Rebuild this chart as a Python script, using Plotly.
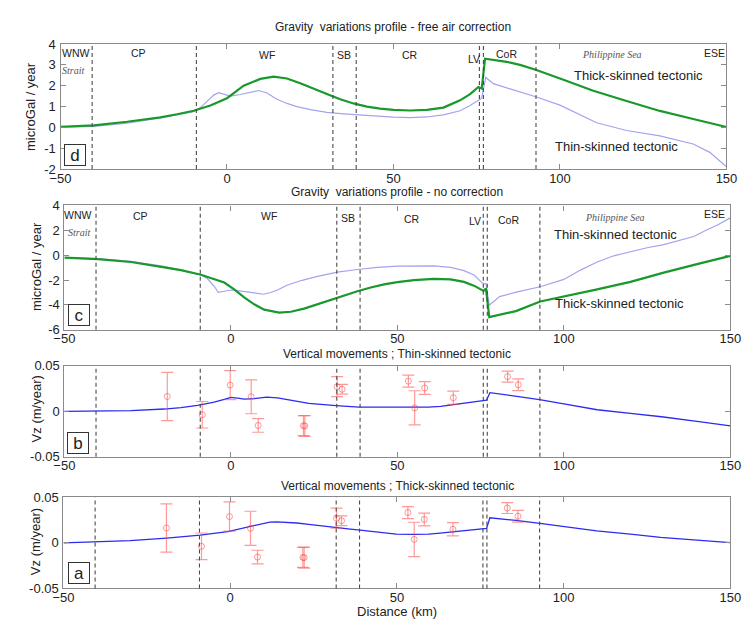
import plotly.graph_objects as go

W, H = 753, 627

# ---------------- data ----------------
# Panel d : gravity, free air correction
d_thick_x = [-50, -40, -30, -20, -15, -10, -5, 0, 5, 10, 14, 18, 22, 26, 30, 34, 38, 42, 46, 50, 55, 60, 65, 70, 73, 75.5, 76.5, 77.5, 80, 84, 88, 92.7, 100, 110, 120, 130, 140, 150]
d_thick_y = [0.03, 0.1, 0.27, 0.48, 0.63, 0.8, 1.05, 1.4, 2.0, 2.33, 2.44, 2.35, 2.12, 1.85, 1.6, 1.35, 1.15, 1.0, 0.9, 0.84, 0.81, 0.84, 0.95, 1.3, 1.6, 1.94, 1.86, 3.3, 3.25, 3.15, 3.0, 2.77, 2.35, 1.76, 1.27, 0.79, 0.4, 0.02]
d_thin_x = [-50, -40, -30, -20, -10, -8, -6, -4, -2.5, -1, 1, 4, 7, 9.5, 12, 15, 18, 21, 25, 30, 35, 40, 45, 50, 55, 60, 65, 70, 73, 75.5, 76.5, 77.7, 80, 85, 92.7, 100, 105, 111, 120, 130, 140, 145, 150]
d_thin_y = [0.0, 0.05, 0.2, 0.45, 0.75, 0.95, 1.25, 1.55, 1.67, 1.6, 1.5, 1.58, 1.7, 1.77, 1.65, 1.35, 1.15, 1.0, 0.85, 0.72, 0.65, 0.6, 0.53, 0.49, 0.47, 0.5, 0.6, 0.8, 1.05, 1.31, 1.4, 2.4, 2.1, 1.85, 1.47, 1.07, 0.7, 0.22, -0.15, -0.41, -0.8, -1.2, -1.89]

# Panel c : gravity, no correction
c_thick_x = [-50, -40, -30, -20, -15, -9, -5, -2, 1, 4, 7, 10, 14.5, 18, 22, 26, 30, 34, 38, 42, 46, 50, 55, 61, 66, 70, 73, 75.9, 76.6, 77.6, 80, 85.6, 92.9, 100, 105, 110, 120, 130, 140, 150]
c_thick_y = [-0.2, -0.32, -0.55, -0.95, -1.2, -1.57, -1.9, -2.2, -2.75, -3.4, -3.95, -4.38, -4.62, -4.55, -4.3, -3.95, -3.55, -3.2, -2.9, -2.6, -2.35, -2.17, -2.0, -1.9, -1.95, -2.15, -2.45, -2.88, -2.67, -4.98, -4.85, -4.5, -3.72, -3.33, -3.06, -2.75, -2.15, -1.4, -0.72, -0.06]
c_thin_x = [-50, -40, -30, -20, -9, -7, -5, -3.8, -2, 0, 2, 4, 7, 9.8, 12, 14, 17, 21.4, 26, 32, 38, 44, 50, 55, 61, 66, 70, 73, 75.9, 76.6, 77.6, 80.7, 86, 92.9, 100, 105, 110, 115, 120, 125, 130, 135, 139, 143, 146, 150]
c_thin_y = [-0.2, -0.28, -0.5, -0.9, -1.57, -1.9, -2.5, -2.99, -2.9, -2.8, -2.85, -2.93, -3.08, -3.14, -3.0, -2.8, -2.4, -2.02, -1.7, -1.37, -1.15, -0.98, -0.88, -0.85, -0.86, -0.98, -1.24, -1.6, -2.33, -2.28, -4.03, -3.33, -2.95, -2.54, -1.95, -1.2, -0.55, -0.05, 0.3, 0.6, 0.85, 1.2, 1.5, 2.05, 2.4, 3.0]

# Panel b : vertical movements, thin-skinned
b_x = [-50, -40, -30, -20, -15, -10, -5, -2, 0, 2, 4, 7, 10.7, 14, 17, 20, 23.4, 27, 31.6, 35, 38.6, 46, 51.5, 59.3, 63, 66, 70, 73, 75.9, 76.8, 77.8, 81, 85.6, 92.7, 100, 110, 120, 129.3, 140, 150]
b_y = [0, 0, 0.0007, 0.0025, 0.004, 0.0065, 0.01, 0.013, 0.0153, 0.0145, 0.0135, 0.014, 0.0155, 0.0148, 0.0132, 0.011, 0.0088, 0.0075, 0.0063, 0.0055, 0.0045, 0.0045, 0.0045, 0.0045, 0.0055, 0.007, 0.0088, 0.0105, 0.0124, 0.0124, 0.0206, 0.019, 0.017, 0.0128, 0.0081, 0.0017, -0.0023, -0.006, -0.0111, -0.016]

# Panel a : vertical movements, thick-skinned
a_x = [-50, -40, -30, -19, -9, -0.7, 3, 6.1, 9, 11.9, 14, 16.8, 20, 23.6, 28, 32.1, 36, 39, 42, 45, 49.8, 55, 59.5, 63, 67.2, 70, 73, 76, 76.9, 77.9, 81, 85.7, 92.9, 100, 109.9, 120, 129.1, 140, 150]
a_y = [0, 0.0014, 0.0025, 0.0053, 0.0085, 0.0124, 0.0155, 0.0185, 0.021, 0.0228, 0.023, 0.0228, 0.0218, 0.0203, 0.0182, 0.0164, 0.015, 0.0139, 0.0125, 0.0112, 0.0096, 0.0094, 0.0096, 0.0108, 0.0125, 0.0137, 0.015, 0.0157, 0.016, 0.0275, 0.0265, 0.0246, 0.0214, 0.0181, 0.0132, 0.0095, 0.006, 0.003, 0.0003]

# Observed vertical velocities with error bars
obs_x = [-19.1, -8.6, -0.2, 6.1, 8.2, 21.8, 22.2, 31.9, 33.4, 53.3, 55.2, 58.2, 66.8, 83.1, 86.3]
obs_y = [0.0163, -0.0038, 0.0289, 0.016, -0.0156, -0.0159, -0.0162, 0.0271, 0.0242, 0.0332, 0.0038, 0.0257, 0.0149, 0.0382, 0.0292]
obs_err = [0.0265, 0.0146, 0.016, 0.0187, 0.0075, 0.011, 0.0115, 0.011, 0.0054, 0.0066, 0.0188, 0.007, 0.0073, 0.006, 0.0065]

# Structural boundaries (km)
boundaries = [-40.5, -9.2, 31.8, 38.8, 75.8, 77.0, 92.8]

x_ticks = [-50, 0, 50, 100, 150]
d_yticks = [4, 3, 2, 1, 0, -1, -2]
c_yticks = [4, 2, 0, -2, -4, -6]
v_yticks = [0.05, 0, -0.05]
v_yticklabels = ["0.05", "0", "-0.05"]

titles = ["Gravity  variations profile - free air correction",
          "Gravity  variations profile - no correction",
          "Vertical movements ; Thin-skinned tectonic",
          "Vertical movements ; Thick-skinned tectonic"]
region_labels = ["WNW", "CP", "WF", "SB", "CR", "LV", "CoR", "ESE"]
panel_letters = ["d", "c", "b", "a"]

# ---------------- styling ----------------
GREEN = "#19982c"
LBLUE = "#a3a3ee"
BLUE = "#2b2bf2"
RED = "rgba(255,70,70,0.55)"
FRAME = "#8a8a8a"
TXT = "#222222"
SANS = "Liberation Sans, Arial, sans-serif"
SERIF = "Liberation Serif, Times New Roman, serif"


def fx(p):
    return p / W


def fy(p):
    return 1 - p / H


# panel pixel boxes: (left, right, top, bottom)
boxes = [(51, 737, 38, 166), (55, 741, 203.3, 330.7), (55, 741, 367.7, 460.7), (54, 741, 502.3, 595.7)]
yranges = [[-2, 4], [-6, 4], [-0.05, 0.05], [-0.05, 0.05]]
yticks = [(d_yticks, [str(v) for v in d_yticks]), (c_yticks, [str(v) for v in c_yticks]),
          (v_yticks, v_yticklabels), (v_yticks, v_yticklabels)]

fig = go.Figure()

layout = dict(width=W, height=H, margin=dict(l=0, r=0, t=0, b=0),
              paper_bgcolor="white", plot_bgcolor="white", showlegend=False,
              font=dict(family=SANS, size=12, color=TXT))

for i, (l, r, t, b) in enumerate(boxes):
    n = "" if i == 0 else str(i + 1)
    layout["xaxis" + n] = dict(domain=[fx(l), fx(r)], range=[-50, 150], anchor="y" + n,
                               tickvals=x_ticks, ticks="inside", ticklen=5, tickcolor=FRAME,
                               showline=True, linecolor=FRAME, linewidth=1.2, mirror="ticks",
                               showgrid=False, zeroline=False, ticklabelstandoff=-3,
                               tickfont=dict(size=13, color=TXT))
    layout["yaxis" + n] = dict(domain=[fy(b), fy(t)], range=yranges[i], anchor="x" + n,
                               tickvals=yticks[i][0], ticktext=yticks[i][1], ticks="inside",
                               ticklen=5, tickcolor=FRAME, showline=True, linecolor=FRAME,
                               linewidth=1.2, mirror="ticks", showgrid=False, zeroline=False,
                               ticklabelstandoff=1, tickfont=dict(size=13, color=TXT))

# traces
fig.add_trace(go.Scatter(x=d_thin_x, y=d_thin_y, mode="lines", line=dict(color=LBLUE, width=1.2), xaxis="x", yaxis="y"))
fig.add_trace(go.Scatter(x=d_thick_x, y=d_thick_y, mode="lines", line=dict(color=GREEN, width=2.2), xaxis="x", yaxis="y"))
fig.add_trace(go.Scatter(x=c_thin_x, y=c_thin_y, mode="lines", line=dict(color=LBLUE, width=1.2), xaxis="x2", yaxis="y2"))
fig.add_trace(go.Scatter(x=c_thick_x, y=c_thick_y, mode="lines", line=dict(color=GREEN, width=2.2), xaxis="x2", yaxis="y2"))
for xa, ya, xs, ys in [("x3", "y3", b_x, b_y), ("x4", "y4", a_x, a_y)]:
    fig.add_trace(go.Scatter(x=xs, y=ys, mode="lines", line=dict(color=BLUE, width=1.3), xaxis=xa, yaxis=ya))
    fig.add_trace(go.Scatter(x=obs_x, y=obs_y, mode="markers",
                             marker=dict(symbol="circle-open", size=6, color=RED, line=dict(width=1)),
                             error_y=dict(type="data", array=obs_err, visible=True, color=RED, thickness=1.2, width=6),
                             xaxis=xa, yaxis=ya))

# dashed boundaries
shapes = []
for i in range(4):
    n = "" if i == 0 else str(i + 1)
    for bx in boundaries:
        shapes.append(dict(type="line", xref="x" + n, yref="y" + n + " domain" if n else "y domain",
                           x0=bx, x1=bx, y0=0, y1=1, line=dict(color="#4a4a4a", width=1.1, dash="4px,3px")))
layout["shapes"] = shapes

ann = []
title_pos = [(394, 20), (398, 190), (398, 356), (398, 491)]
for (x, y), t in zip(title_pos, titles):
    ann.append(dict(text=t, x=fx(x), y=fy(y), xref="paper", yref="paper", showarrow=False,
                    xanchor="center", yanchor="middle", font=dict(size=12, color=TXT)))
ann.append(dict(text="Distance (km)", x=fx(398), y=fy(619), xref="paper", yref="paper", showarrow=False,
                xanchor="center", yanchor="middle", font=dict(size=13, color=TXT)))
for (x, y, t) in [(20, 102, "microGal / year"), (26, 266, "microGal / year"), (26, 412, "Vz (m/year)"), (26, 548, "Vz (m/year)")]:
    ann.append(dict(text=t, x=fx(x), y=fy(y), xref="paper", yref="paper", showarrow=False, textangle=-90,
                    xanchor="center", yanchor="middle", font=dict(size=13, color=TXT)))

# region labels (panels d and c)
d_lab_pos = [(66.7, 47), (131, 47), (264, 49), (343, 49), (410.7, 49), (477.3, 53), (510, 48), (725, 47)]
c_lab_pos = [(68.3, 213), (133, 214), (266, 214), (347, 216), (412.7, 217), (478.3, 219), (512.7, 218), (725, 212)]
for pos in (d_lab_pos, c_lab_pos):
    for (x, y), t in zip(pos, region_labels):
        ann.append(dict(text=t, x=fx(x), y=fy(y), xref="paper", yref="paper", showarrow=False,
                        xanchor="center", yanchor="middle", font=dict(size=10.5, color=TXT)))
for (x, y) in [(64, 65), (70, 231)]:
    ann.append(dict(text="<i>Strait</i>", x=fx(x), y=fy(y), xref="paper", yref="paper", showarrow=False,
                    xanchor="center", yanchor="middle", font=dict(family=SERIF, size=10, color="#555555")))
for (x, y) in [(619.3, 49), (621.7, 216)]:
    ann.append(dict(text="<i>Philippine Sea</i>", x=fx(x), y=fy(y), xref="paper", yref="paper", showarrow=False,
                    xanchor="center", yanchor="middle", font=dict(family=SERIF, size=10, color="#555555")))
for (x, y, t) in [(646.7, 70, "Thick-skinned tectonic"), (623.3, 143, "Thin-skinned tectonic"),
                  (622.3, 233, "Thin-skinned tectonic"), (626.7, 304, "Thick-skinned tectonic")]:
    ann.append(dict(text=t, x=fx(x), y=fy(y), xref="paper", yref="paper", showarrow=False,
                    xanchor="center", yanchor="middle", font=dict(size=13, color=TXT)))

letter_pos = [(66, 152), (70, 315.5), (69.5, 446.7), (70, 580)]
for (x, y), t in zip(letter_pos, panel_letters):
    ann.append(dict(text=t, x=fx(x), y=fy(y), xref="paper", yref="paper", showarrow=False,
                    xanchor="center", yanchor="middle", width=18, height=18, borderpad=1,
                    bordercolor="#333333", borderwidth=1, bgcolor="white",
                    font=dict(size=17, color=TXT)))
layout["annotations"] = ann

fig.update_layout(**layout)
fig.write_html("out.html")
